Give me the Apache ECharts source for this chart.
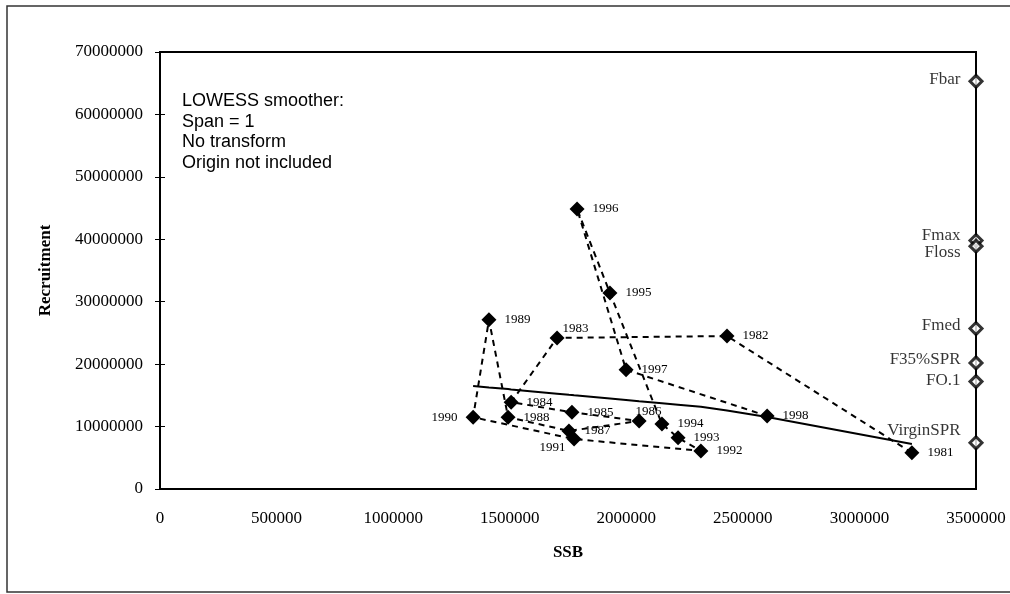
<!DOCTYPE html>
<html>
<head>
<meta charset="utf-8">
<title>SSB vs Recruitment</title>
<script src="https://cdn.jsdelivr.net/npm/echarts@6/dist/echarts.min.js"></script>
<style>
  html, body { margin: 0; padding: 0; background: #ffffff; }
  #chart { width: 1010px; height: 594px; }
</style>
</head>
<body>
<div id="chart"></div>
<script>
// Stock-recruitment observations, one per year
const years = [1981, 1982, 1983, 1984, 1985, 1986, 1987, 1988, 1989,
               1990, 1991, 1992, 1993, 1994, 1995, 1996, 1997, 1998];
const ssb = [3225000, 2432000, 1703000, 1506000, 1767000, 2055000, 1754000, 1493000, 1411000,
             1343000, 1776000, 2320000, 2222000, 2153000, 1930000, 1789000, 1999000, 2604000];
const recruitment = [5800000, 24500000, 24200000, 13900000, 12300000, 10900000, 9300000, 11500000, 27100000,
                     11500000, 8000000, 6100000, 8200000, 10400000, 31400000, 44850000, 19100000, 11700000];

// LOWESS fit evaluated at the sorted SSB values
const lowessSsb = [1343000, 1411000, 1493000, 1506000, 1703000, 1754000, 1767000, 1776000, 1789000,
                   1930000, 1999000, 2055000, 2153000, 2222000, 2320000, 2432000, 2604000, 3225000];
const lowessFit = [16500000, 16260000, 16000000, 15940000, 15270000, 15090000, 15060000, 15010000, 14980000,
                   14500000, 14260000, 14060000, 13730000, 13500000, 13170000, 12570000, 11530000, 7210000];

// Reference points plotted on the right-hand edge
const refNames = ['Fbar', 'Fmax', 'Floss', 'Fmed', 'F35%SPR', 'FO.1', 'VirginSPR'];
const refRecruitment = [65300000, 39800000, 38900000, 25700000, 20200000, 17200000, 7400000];
const refSsb = 3500000;

// Axis ranges
const xMax = 3500000, xStep = 500000;
const yMax = 70000000, yStep = 10000000;

const noteLines = ['LOWESS smoother:', 'Span = 1', 'No transform', 'Origin not included'];

// Year-label placement tweaks (default: right of the marker)
const yearLabelPlacement = {
  1983: { offset: [-10, -9] },
  1986: { offset: [-19, -9] },
  1990: { position: 'left' },
  1991: { position: 'left', offset: [7, 9] }
};
// Reference-label vertical nudges
const refLabelNudge = { 'Fbar': -2, 'Fmax': -5, 'Floss': 6, 'Fmed': -3, 'F35%SPR': -3, 'FO.1': -1, 'VirginSPR': -12 };

const serif = 'Liberation Serif, Times New Roman, serif';
const sans = 'Liberation Sans, Arial, sans-serif';
const ink = '#000000';
const plain = v => String(v);

const obsData = years.map((yr, i) => {
  const item = { value: [ssb[i], recruitment[i]] };
  const p = yearLabelPlacement[yr];
  if (p) {
    item.label = {};
    if (p.position) item.label.position = p.position;
    if (p.offset) item.label.offset = p.offset;
  }
  return item;
});

const refData = refNames.map((n, i) => ({
  name: n,
  value: [refSsb, refRecruitment[i]],
  label: { offset: [0, refLabelNudge[n] || 0] }
}));

const chart = echarts.init(document.getElementById('chart'), null, { renderer: 'canvas' });

chart.setOption({
  animation: false,
  backgroundColor: '#ffffff',
  grid: {
    left: 160, right: 34, top: 52, bottom: 105,
    show: true, borderColor: ink, borderWidth: 2, backgroundColor: 'transparent'
  },
  xAxis: {
    type: 'value', min: 0, max: xMax, interval: xStep,
    name: 'SSB', nameLocation: 'middle', nameGap: 55,
    nameTextStyle: { fontFamily: serif, fontSize: 17, fontWeight: 'bold', color: ink },
    axisLine: { show: true, lineStyle: { color: ink, width: 2 } },
    axisTick: { show: false },
    axisLabel: { fontFamily: serif, fontSize: 17, color: ink, margin: 21, formatter: plain },
    splitLine: { show: false }
  },
  yAxis: [
    {
      type: 'value', min: 0, max: yMax, interval: yStep,
      name: 'Recruitment', nameLocation: 'middle', nameGap: 106,
      nameTextStyle: { fontFamily: serif, fontSize: 17, fontWeight: 'bold', color: ink },
      axisLine: { show: true, lineStyle: { color: ink, width: 2 } },
      axisTick: { show: true, length: 5, lineStyle: { color: ink, width: 1 } },
      axisLabel: { fontFamily: serif, fontSize: 17, color: ink, margin: 17, formatter: plain },
      splitLine: { show: false }
    },
    {
      // inner half of the crossing tick marks
      type: 'value', min: 0, max: yMax, interval: yStep, position: 'left',
      axisLine: { show: false },
      axisTick: { show: true, inside: true, length: 5, lineStyle: { color: ink, width: 1 } },
      axisLabel: { show: false },
      splitLine: { show: false }
    }
  ],
  series: [
    {
      name: 'Observed',
      type: 'line',
      data: obsData,
      symbol: 'diamond',
      symbolSize: 15,
      itemStyle: { color: ink },
      lineStyle: { color: ink, width: 2, type: [6, 5] },
      label: {
        show: true, position: 'right', distance: 8,
        fontFamily: serif, fontSize: 13, color: ink,
        formatter: p => String(years[p.dataIndex])
      },
      z: 3
    },
    {
      name: 'LOWESS',
      type: 'line',
      data: lowessSsb.map((x, i) => [x, lowessFit[i]]),
      symbol: 'none',
      lineStyle: { color: ink, width: 2 },
      z: 2
    },
    {
      name: 'Reference points',
      type: 'scatter',
      data: refData,
      symbol: 'diamond',
      symbolSize: 12,
      clip: false,
      itemStyle: { color: '#ffffff', borderColor: ink, borderWidth: 3 },
      label: {
        show: true, position: 'left', distance: 8,
        fontFamily: serif, fontSize: 17, color: ink,
        formatter: p => p.name
      },
      z: 4
    }
  ],
  graphic: [
    {
      type: 'rect', silent: true, z: 0,
      shape: { x: 7, y: 6, width: 1010, height: 586 },
      style: { fill: 'none', stroke: '#333333', lineWidth: 1.5 }
    },
    {
      type: 'text', silent: true, left: 182, top: 91,
      style: {
        text: noteLines.join('\n'),
        font: '18px ' + sans,
        lineHeight: 20.5,
        fill: ink
      }
    }
  ]
});
</script>
</body>
</html>
